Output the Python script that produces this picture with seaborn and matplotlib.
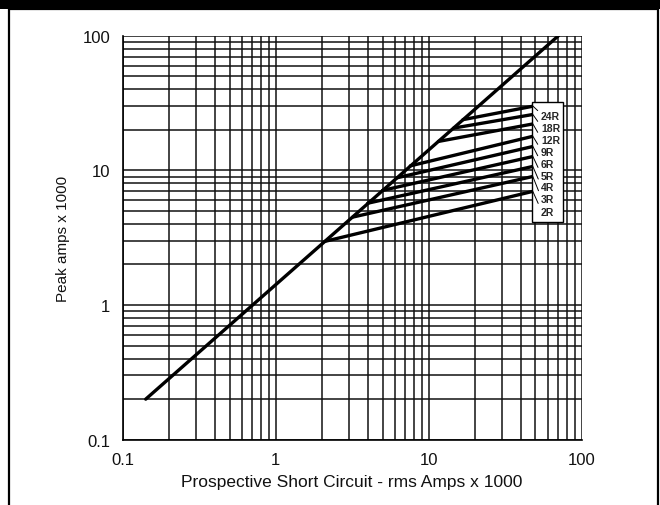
import matplotlib
matplotlib.use('Agg')
import matplotlib.pyplot as plt
import matplotlib.ticker as mticker
from matplotlib.patches import Rectangle
import pandas as pd
import seaborn as sns

# main line: peak = sqrt(2) * rms
main_x = [0.1414, 70.7]
main_y = [0.2, 100]

# fuse let-through lines, each starts on the main line
ratings = ['2R', '3R', '4R', '5R', '6R', '9R', '12R', '18R', '24R']
start_x = [2.1, 3.2, 4.0, 5.0, 6.2, 7.6, 11.6, 14.6, 16.8]
start_y = [2.97, 4.5, 5.7, 7.1, 8.8, 10.8, 16.4, 20.6, 23.8]
end_x = [50, 50, 50, 50, 50, 50, 50, 50, 50]
end_y = [7.06, 9.1, 10.8, 12.8, 15.2, 18.1, 22.3, 26.2, 30.2]

tick_vals = [0.1, 1, 10, 100]
tick_labels = ['0.1', '1', '10', '100']

rows = []
for r, x0, y0, x1, y1 in zip(ratings, start_x, start_y, end_x, end_y):
    rows.append({'rating': r, 'x': x0, 'y': y0})
    rows.append({'rating': r, 'x': x1, 'y': y1})
fuse = pd.DataFrame(rows)
main = pd.DataFrame({'x': main_x, 'y': main_y})

sns.set_style('white')
plt.rcParams['font.family'] = ['Liberation Sans', 'DejaVu Sans']

W, H = 660, 506
fig = plt.figure(figsize=(W / 100, H / 100), dpi=100)
L, R, T, B = 122.7, 581.5, 36.7, 440.7
ax = fig.add_axes([L / W, (H - B) / H, (R - L) / W, (B - T) / H])

sns.lineplot(data=main, x='x', y='y', color='black', lw=2.4, ax=ax, zorder=4)
sns.lineplot(data=fuse, x='x', y='y', units='rating', estimator=None,
             color='black', lw=2.4, ax=ax, zorder=4)

ax.set_xscale('log')
ax.set_yscale('log')
ax.set_xlim(0.1, 100)
ax.set_ylim(0.1, 100)
ax.set_xticks(tick_vals)
ax.set_xticklabels(tick_labels)
ax.set_yticks(tick_vals)
ax.set_yticklabels(tick_labels)
ax.xaxis.set_minor_locator(mticker.LogLocator(base=10, subs=range(2, 10)))
ax.yaxis.set_minor_locator(mticker.LogLocator(base=10, subs=range(2, 10)))
ax.xaxis.set_minor_formatter(mticker.NullFormatter())
ax.yaxis.set_minor_formatter(mticker.NullFormatter())
ax.grid(which='both', color='#111111', lw=1.1)
ax.set_axisbelow(True)
ax.tick_params(which='major', direction='out', length=5, width=1, color='black',
               labelsize=12, pad=4, labelcolor='#111111')
ax.tick_params(which='minor', length=0)
for side in ['top', 'right']:
    ax.spines[side].set_visible(False)
for side in ['left', 'bottom']:
    ax.spines[side].set_color('black')
    ax.spines[side].set_linewidth(1.2)

ax.set_xlabel('Prospective Short Circuit - rms Amps x 1000', fontsize=12.5,
              labelpad=5, color='#111111')
ax.set_ylabel('Peak amps x 1000', fontsize=11, labelpad=9, color='#111111')

# label box
def ax_x(px):
    return (px - L) / (R - L)

def ax_y(py):
    return (B - py) / (B - T)

ax.add_patch(Rectangle((ax_x(532), ax_y(223)), ax_x(563) - ax_x(532),
                       ax_y(103) - ax_y(223), transform=ax.transAxes,
                       facecolor='white', edgecolor='black', lw=1, zorder=5))
label_py = [212.7, 200, 188.3, 176.7, 165, 152.7, 141, 129, 116.7]
end_py = [191.7, 176.7, 166.7, 156.7, 146.7, 136.7, 124.3, 115, 106.7]
for r, lp, ep in zip(ratings, label_py, end_py):
    ax.annotate(r, xy=(ax_x(532.5), ax_y(ep)), xycoords='axes fraction',
                xytext=(ax_x(541), ax_y(lp)), textcoords='axes fraction',
                fontsize=7.5, fontweight='bold', ha='left', va='center', zorder=6,
                arrowprops=dict(arrowstyle='-', lw=0.7, color='black',
                                relpos=(0, 0.7), shrinkA=0, shrinkB=0))

# page frame and top band
fig.patches.append(Rectangle((0, H - 10), W, 10, transform=None,
                             facecolor='black', edgecolor='none'))
fig.patches.append(Rectangle((9, -5), 649, H - 10 + 5, transform=None,
                             facecolor='none', edgecolor='black', lw=1.6))

fig.savefig('out.png', dpi=100)
